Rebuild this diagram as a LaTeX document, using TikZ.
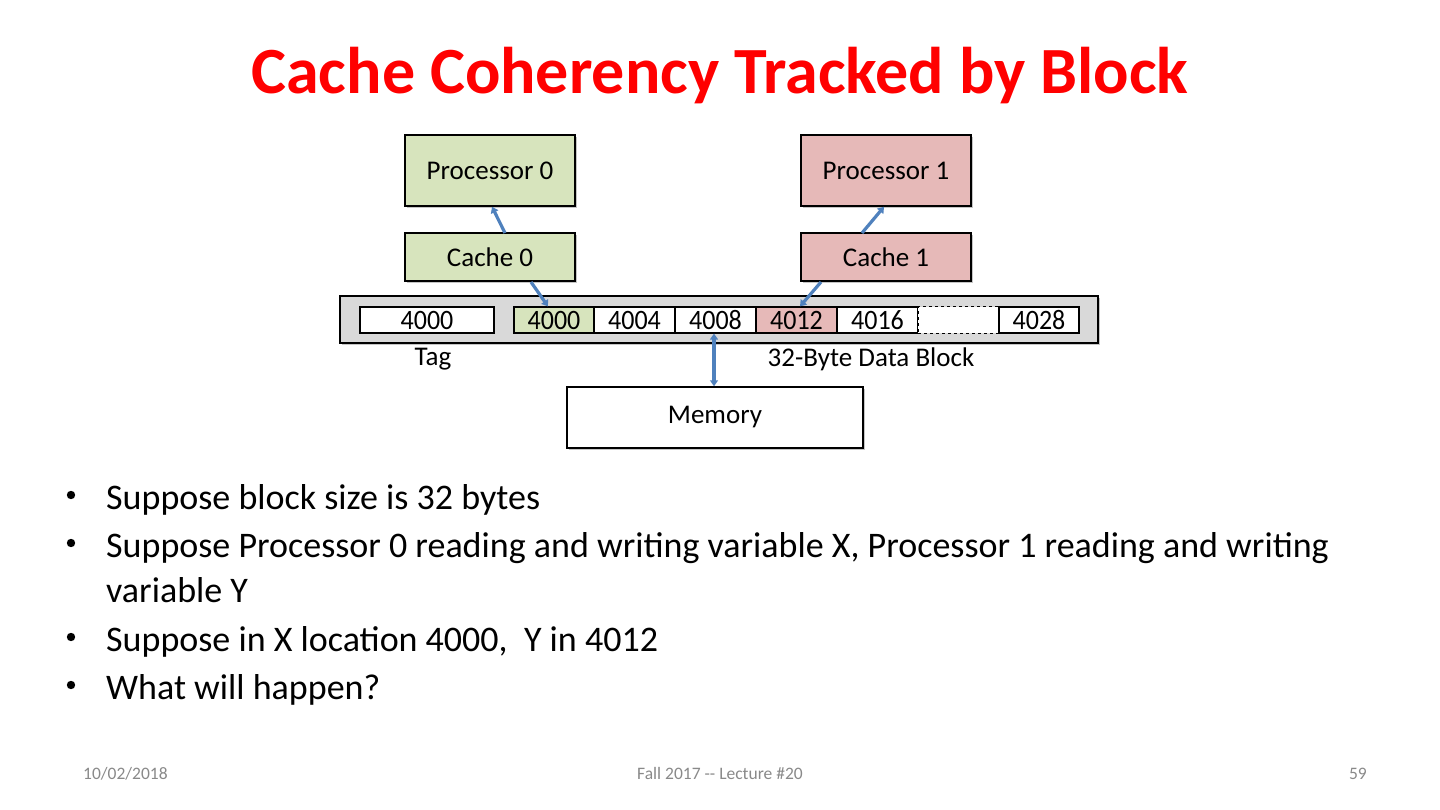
\documentclass[tikz,border=0pt]{standalone}
\usepackage{fontspec}
\setmainfont{Carlito}
\usetikzlibrary{shadows,arrows.meta}
\definecolor{pgreen}{HTML}{D7E4BD}
\definecolor{ppink}{HTML}{E6B9B8}
\definecolor{barg}{HTML}{D9D9D9}
\definecolor{arrblue}{HTML}{4F81BD}
\definecolor{footg}{HTML}{898989}
\newcommand{\cellnum}[1]{\scalebox{1}[1.08]{#1}}
\tikzset{
  box/.style={draw=black, line width=1.5pt, drop shadow={shadow xshift=2pt, shadow yshift=-2pt, fill=black!45}, inner sep=0pt, font=\fontsize{27}{30}\selectfont},
  cell/.style={draw=black, line width=1.2pt, fill=white, inner sep=0pt, minimum height=26pt, text height=20pt, text depth=0pt, font=\fontsize{26}{28}\selectfont},
  conn/.style={draw=arrblue, line width=3.2pt, -{Triangle[length=6pt,width=8pt]}},
  bullettext/.style={anchor=base west, inner sep=0pt, font=\fontsize{36}{40}\selectfont},
  lbl/.style={font=\fontsize{27}{30}\selectfont, inner sep=0pt},
  foot/.style={text=footg, font=\fontsize{17.5}{20}\selectfont, inner sep=0pt, anchor=base},
}
\begin{document}
\begin{tikzpicture}[x=1pt,y=-1pt]
\useasboundingbox[fill=white] (0,0) rectangle (1440,810);
\node[text=red, font=\fontsize{66}{72}\selectfont\bfseries, inner sep=0pt, anchor=base] (title) at (720,94) {Cache Coherency Tracked by Block};
% processors and caches
\node[box, fill=pgreen, minimum width=170pt, minimum height=71pt] (p0) at (490,170.5) {Processor 0};
\node[box, fill=ppink, minimum width=170pt, minimum height=71pt] (p1) at (886,170.5) {Processor 1};
\node[box, fill=pgreen, minimum width=170pt, minimum height=48pt] (c0) at (490,257) {Cache 0};
\node[box, fill=ppink, minimum width=170pt, minimum height=48pt] (c1) at (886,257) {Cache 1};
% bar
\node[box, fill=barg, minimum width=758pt, minimum height=47pt] (bar) at (719,319.5) {};
\node[cell, minimum width=134pt] (tag) at (427,320) {\cellnum{4000}};
\node[cell, minimum width=80pt, fill=pgreen] (d0) at (554,320) {\cellnum{4000}};
\node[cell, minimum width=81pt] (d1) at (634.5,320) {\cellnum{4004}};
\node[cell, minimum width=81pt] (d2) at (715.5,320) {\cellnum{4008}};
\node[cell, minimum width=81pt, fill=ppink] (d3) at (796.5,320) {\cellnum{4012}};
\node[cell, minimum width=81pt] (d4) at (877.5,320) {\cellnum{4016}};
\node[cell, minimum width=81pt, dashed, line width=1pt] (d5) at (958.5,320) {};
\node[cell, minimum width=80pt] (d6) at (1039,320) {\cellnum{4028}};
\node[lbl] (taglbl) at (433,359) {Tag};
\node[lbl] (dlbl) at (871,359) {32-Byte Data Block};
\node[box, fill=white, minimum width=296pt, minimum height=61pt] (mem) at (715,417.5) {Memory};
% connectors
\coordinate (c0t) at (505,233);
\coordinate (c0b) at (531,282);
\coordinate (c1t) at (862,233);
\coordinate (c1b) at (821,282);
\draw[conn] (c0t) -- (p0.south -| 492,0);
\draw[conn] (c0b) -- (d0.north -| 548,0);
\draw[conn] (c1t) -- (p1.south -| 884,0);
\draw[conn] (c1b) -- (d3.north -| 800,0);
\draw[conn, {Triangle[length=6pt,width=8pt]}-{Triangle[length=6pt,width=8pt]}] (d2.south -| 714,0) -- (mem.north -| 714,0);
% bullets
\foreach \yy/\txt [count=\i] in {509/{Suppose block size is 32 bytes}, 557/{Suppose Processor 0 reading and writing variable X, Processor 1 reading and writing}, 602/{variable Y}, 651/{Suppose in X location 4000,~ Y in 4012}, 699/{What will happen?}}{
  \node[bullettext] (b\i) at (106,\yy) {\txt};
}
\foreach \yy [count=\i] in {495,543,637,685}{
  \fill (71,\yy) circle (4.2pt);
}
% footer
\node[foot, anchor=base west] (f1) at (83,779) {10/02/2018};
\node[foot] (f2) at (720,779) {Fall 2017 {-}{-} Lecture \#20};
\node[foot, anchor=base east] (f3) at (1367,779) {59};
\end{tikzpicture}
\end{document}
